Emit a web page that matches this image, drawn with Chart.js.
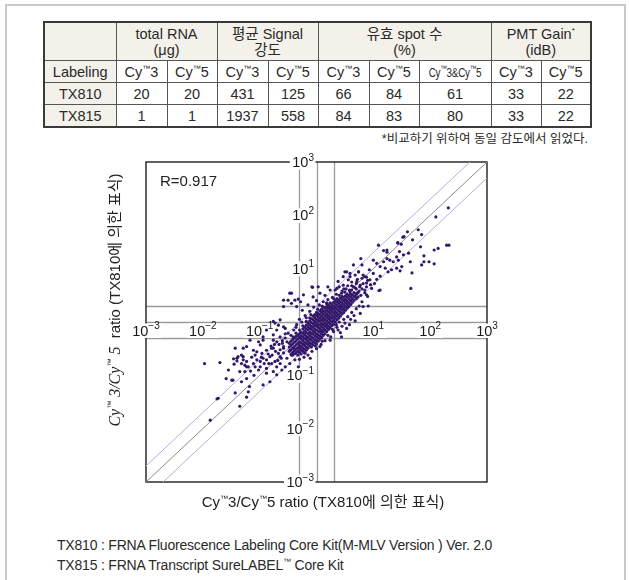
<!DOCTYPE html>
<html>
<head>
<meta charset="utf-8">
<script src="https://cdn.jsdelivr.net/npm/chart.js@4/dist/chart.umd.min.js"></script>
<style>
  body { margin: 0; width: 630px; height: 580px; overflow: hidden; background: #fff;
         font-family: "Liberation Sans", "Noto Sans CJK KR", sans-serif; color: #2a2a2a; }
  #frame { position: absolute; left: 5px; top: 4px; width: 617px; height: 620px; border: 2px solid #c9c9c9; }
  table { position: absolute; left: 43px; top: 21px; border-collapse: collapse; table-layout: fixed;
          border: 2px solid #3a3a3a; font-size: 14.5px; }
  td { border: 1px solid #555; text-align: center; padding: 0; height: 21px; white-space: nowrap; }
  tr.head td { height: 37px; line-height: 16px; background: #f3f1ea; }
  td.lab { background: #f3f1ea; }
  sup { font-size: 8px; vertical-align: 6px; line-height: 0; }
  .both { display: inline-block; font-size: 12px; transform: scaleX(0.82); letter-spacing: -0.3px; }
  #note { position: absolute; right: 42px; top: 128px; font-size: 12.5px; }
  #kits { position: absolute; left: 57px; top: 535px; font-size: 14px; line-height: 20px; letter-spacing: -0.2px; }
  #chartBox { position: absolute; left: 0; top: 140px; }
</style>
</head>
<body>
<div id="frame"></div>
<table id="tbl"></table>
<div id="note">*비교하기 위하여 동일 감도에서 읽었다.</div>
<div id="chartBox"><canvas id="scatter" width="630" height="380"></canvas></div>
<div id="kits">TX810 : FRNA Fluorescence Labeling Core Kit(M-MLV Version ) Ver. 2.0<br>TX815 : FRNA Transcript SureLABEL<sup>™</sup> Core Kit</div>
<script>
// table
const colWidths = [72, 51, 50, 51, 50, 51, 50, 72, 50, 50];
const groupHeads = ['total RNA<br>(μg)', '평균 Signal<br>강도', '유효 spot 수<br>(%)', 'PMT Gain<sup>*</sup><br>(idB)'];
const groupSpans = [2, 2, 3, 2];
const subHeads = ['Cy<sup>™</sup>3', 'Cy<sup>™</sup>5', 'Cy<sup>™</sup>3', 'Cy<sup>™</sup>5', 'Cy<sup>™</sup>3', 'Cy<sup>™</sup>5',
                  '<span class="both">Cy<sup>™</sup>3&amp;Cy<sup>™</sup>5</span>', 'Cy<sup>™</sup>3', 'Cy<sup>™</sup>5'];
const kitNames = ['TX810', 'TX815'];
const tx810Row = [20, 20, 431, 125, 66, 84, 61, 33, 22];
const tx815Row = [1, 1, 1937, 558, 84, 83, 80, 33, 22];

// scatter, log10 of Cy3/Cy5 ratio: [TX810, TX815]
const highTail = [
  [2.32,2.14],[2.10,1.97],[1.79,1.73],[1.85,1.64],[1.60,1.69],[1.54,1.60],[1.69,1.54],[1.43,1.48],[1.49,1.46],[1.09,1.44],
  [2.29,1.44],[2.33,1.44],[1.83,1.41],[2.14,1.38],[2.07,1.35],[1.18,1.34],[1.24,1.31],[1.46,1.32],[1.62,1.29],[1.53,1.26],
  [1.41,1.22],[1.29,1.16],[1.35,1.13],[1.44,1.16],[1.24,1.19],[1.18,1.13],[1.06,1.10],[1.00,1.16],[1.12,1.04],[1.21,1.01],
  [1.26,0.94],[1.32,0.98],[1.41,1.01],[1.47,0.96],[1.50,1.04],[1.65,1.13],[1.68,0.92],[1.89,1.24],[1.89,1.13],[1.98,1.13],
  [2.07,1.09],[1.85,1.07],[1.66,0.63],[1.12,0.60],[0.78,1.19],[0.65,1.07],[0.74,0.94],[0.93,0.98],[1.00,0.91],[0.82,0.88],
  [0.88,0.84],[0.80,0.82],[0.94,0.79],[1.06,0.80],[1.12,0.86],[0.50,0.94],[0.59,0.91],[0.47,0.85],[0.68,0.88],[0.56,0.79],
  [0.38,0.76],[0.71,0.76],[0.77,0.69],[0.65,0.66],[0.88,0.66],[0.97,0.63],[0.47,0.69],[0.88,0.51],[0.59,0.57],[0.33,0.60],
  [0.44,0.54],[0.71,0.54],[0.91,0.30],[1.10,0.59],[0.44,0.29],[0.53,0.94],[0.80,1.07],[1.52,1.59],[1.43,1.49],[1.24,1.35],
  [0.62,0.60],[0.70,0.62],[0.75,0.58],[0.82,0.72],[0.90,0.78],[0.68,0.48],[0.78,0.50],[0.85,0.60],[0.95,0.70],[1.02,0.72],
  [0.55,0.68],[0.48,0.62],[0.40,0.66],[0.72,0.80],[0.62,0.75]
];
const lowTail = [
  [-1.97,-0.78],[-1.70,-0.76],[-1.46,-0.69],[-1.38,-0.65],[-1.45,-0.79],[-1.32,-0.62],[-1.29,-0.71],[-1.23,-0.74],[-1.26,-0.81],[-1.20,-0.84],
  [-1.55,-0.90],[-1.49,-1.09],[-1.35,-0.93],[-1.32,-1.12],[-1.43,-1.33],[-1.23,-1.06],[-1.18,-1.21],[-1.20,-1.31],[-1.23,-1.41],[-1.35,-1.58],
  [-1.73,-1.43],[-1.87,-1.84],[-1.11,-0.78],[-1.05,-0.71],[-0.99,-0.74],[-0.94,-0.68],[-0.88,-0.71],[-0.82,-0.65],[-1.08,-0.84],[-0.99,-0.84],
  [-1.02,-0.90],[-0.88,-0.87],[-0.79,-0.78],[-0.73,-0.74],[-0.70,-0.84],[-0.88,-0.96],[-0.76,-0.93],[-0.64,-0.78],[-0.96,-0.59],[-1.05,-0.56],
  [-0.88,-0.53],[-0.76,-0.49],[-0.67,-0.59],[-0.82,-1.12],[-0.94,-1.18],[-0.70,-0.99],[-0.61,-0.90],[-0.55,-0.84],[-0.47,-0.78],[-0.52,-0.68],
  [-0.44,-0.62],[-0.58,-0.49],[-0.41,-0.49],[-0.52,-0.37],[-0.41,-0.28],[-0.50,-0.21],[-0.64,-0.28],[-0.76,-0.34],[-0.94,-0.34],[-0.99,-0.43],
  [-1.11,-0.53],[-1.23,-0.46],[-1.43,-0.49],[-0.70,-0.15],[-0.58,-0.09],[-1.59,-1.06],[-1.47,-1.09],[-1.75,-1.44],[-1.40,-0.73],[-1.29,-0.65],
  [-1.32,-0.78],[-1.23,-0.84],[-1.26,-0.93],[-1.17,-0.34],[-1.02,-0.37],[-1.29,-0.49],[-1.40,-0.68],[-0.88,-0.15],[-0.94,-0.28],[-0.76,0.01],
  [-0.67,-0.06],[-0.85,-0.60],[-0.72,-0.55],[-0.62,-0.68],[-0.80,-0.45],[-0.66,-0.42],[-0.92,-0.78],[-0.58,-0.58],[-0.68,-0.72],[-0.78,-0.62],
  [-1.14,-0.66],[-1.08,-0.62],[-0.97,-0.66],[-0.84,-0.78],[-0.60,-0.35],[-0.55,-0.22],[-1.16,-0.92],[-1.10,-1.00],[-0.74,-0.42],[-0.64,-0.52]
];
const haloSpots = [
  [-0.07,0.65],[-0.44,0.54],[-0.23,0.51],[-0.32,0.43],[-0.50,0.41],[-0.06,0.47],[0.06,0.54],[0.24,0.60],[0.36,0.63],[0.59,0.85],
  [0.74,0.94],[0.85,0.85],[0.88,0.73],[0.82,0.29],[0.77,0.16],[0.53,-0.12],[0.44,-0.28],[-0.64,0.04],[-0.73,-0.02],[-0.55,-0.12],
  [-0.76,-0.24],[-0.70,-0.37],[-0.79,-0.49],[-0.58,-0.46],[-0.47,-0.53],[-0.64,-0.65],[-0.32,-0.84],[-0.38,-0.71],[-0.11,-0.68],[0.06,-0.46],
  [0.24,-0.34],[-0.58,0.29],[-0.08,0.66],[0.03,0.66],[0.20,0.66],[-0.28,0.38],[-0.35,0.29],[-0.47,0.54],[-0.58,0.41],[-0.38,0.41],
  [-0.44,0.35],[0.40,0.00],[0.48,0.05],[0.55,0.10],[0.62,0.18],[0.70,0.25],[0.45,-0.08],[0.38,-0.15],[0.60,0.05],[0.66,0.12],
  [0.75,0.30],[0.80,0.38],[0.50,-0.02],[0.35,-0.05],[0.30,-0.18],[0.20,-0.25],[0.15,-0.35],[0.08,-0.42],[0.00,-0.50],[-0.08,-0.55],
  [-0.15,-0.62],[-0.22,-0.66],[-0.30,-0.70],[0.25,-0.28],[0.42,-0.20],[0.58,-0.05],[0.68,0.02],[-0.40,-0.15],[-0.45,-0.25],[-0.35,-0.05],
  [-0.30,0.05],[-0.20,0.12],[-0.12,0.20],[-0.05,0.28],[0.05,0.32],[0.12,0.38],[0.20,0.42],[0.28,0.46],[0.35,0.52],[0.45,0.58],
  [0.52,0.62],[0.62,0.68],[0.70,0.72],[0.80,0.62],[0.85,0.55],[0.90,0.48],[-0.55,-0.30],[-0.60,-0.40],[-0.25,0.22],[-0.15,0.32],
  [0.00,0.40],[0.15,0.50],[-0.36,-0.10],[-0.26,0.00],[-0.18,0.08],[-0.10,0.14],[0.02,0.24],[0.10,0.30],[0.18,0.36],[0.30,0.44],
  [0.40,0.50],[0.50,0.56],[0.58,0.60],[0.68,0.64],[0.76,0.66],[0.36,-0.10],[0.28,-0.14],[0.10,-0.36],[-0.02,-0.45],[-0.20,-0.58]
];
// dense core, one column per TX810 value
const coreColumns = [
  [-0.48,[-0.55,-0.47,-0.40]],
  [-0.45,[-0.60,-0.52,-0.44,-0.36]],
  [-0.42,[-0.57,-0.49,-0.41,-0.33,-0.62]],
  [-0.39,[-0.54,-0.46,-0.38,-0.30,-0.60]],
  [-0.36,[-0.58,-0.51,-0.43,-0.35,-0.27,-0.21]],
  [-0.33,[-0.55,-0.48,-0.40,-0.32,-0.25,-0.62]],
  [-0.30,[-0.57,-0.50,-0.44,-0.37,-0.29,-0.22,-0.15]],
  [-0.27,[-0.53,-0.46,-0.39,-0.32,-0.26,-0.19,-0.60]],
  [-0.24,[-0.55,-0.49,-0.42,-0.35,-0.28,-0.21,-0.13,-0.07]],
  [-0.21,[-0.51,-0.44,-0.38,-0.31,-0.24,-0.17,-0.10,-0.58]],
  [-0.18,[-0.53,-0.47,-0.40,-0.33,-0.27,-0.20,-0.13,-0.06,0.01]],
  [-0.15,[-0.49,-0.42,-0.36,-0.29,-0.22,-0.15,-0.09,-0.02]],
  [-0.12,[-0.45,-0.39,-0.32,-0.25,-0.19,-0.12,-0.05,0.02,0.08]],
  [-0.09,[-0.47,-0.41,-0.34,-0.28,-0.21,-0.14,-0.08,-0.01,0.06]],
  [-0.06,[-0.43,-0.37,-0.30,-0.23,-0.17,-0.10,-0.03,0.04,0.11]],
  [-0.03,[-0.39,-0.33,-0.26,-0.19,-0.13,-0.06,0.01,0.08,0.14]],
  [0.00,[-0.41,-0.35,-0.28,-0.22,-0.15,-0.08,-0.02,0.05,0.12,0.18]],
  [0.03,[-0.36,-0.30,-0.24,-0.17,-0.10,-0.04,0.03,0.10,0.16]],
  [0.06,[-0.32,-0.26,-0.19,-0.13,-0.06,0.01,0.07,0.14,0.21]],
  [0.09,[-0.29,-0.22,-0.16,-0.09,-0.03,0.04,0.11,0.18,0.24]],
  [0.12,[-0.25,-0.18,-0.12,-0.05,0.02,0.08,0.15,0.21,0.28]],
  [0.15,[-0.22,-0.15,-0.08,-0.02,0.05,0.12,0.19,0.26]],
  [0.18,[-0.18,-0.11,-0.05,0.02,0.09,0.15,0.22,0.29,0.34]],
  [0.21,[-0.14,-0.08,-0.01,0.06,0.12,0.19,0.26,0.32]],
  [0.24,[-0.11,-0.04,0.03,0.09,0.16,0.23,0.29,0.36]],
  [0.27,[-0.07,0.00,0.07,0.13,0.20,0.26,0.33]],
  [0.30,[-0.04,0.03,0.10,0.17,0.24,0.30,0.37]],
  [0.33,[0.00,0.07,0.14,0.20,0.27,0.34,0.40]],
  [0.36,[0.04,0.11,0.17,0.24,0.31,0.38,0.44]],
  [0.39,[0.07,0.14,0.21,0.28,0.35,0.41]],
  [0.42,[0.11,0.18,0.25,0.31,0.38,0.45]],
  [0.45,[0.15,0.22,0.28,0.35,0.42,0.48]],
  [0.48,[0.18,0.25,0.32,0.39,0.46]],
  [0.51,[0.22,0.29,0.36,0.42,0.49]],
  [0.54,[0.26,0.33,0.39,0.46,0.52]],
  [0.57,[0.29,0.36,0.43,0.50]],
  [0.60,[0.33,0.40,0.47,0.53]],
  [0.63,[0.37,0.44,0.51]],
  [0.66,[0.41,0.48,0.55]],
  [0.70,[0.44,0.52]],
  [0.73,[0.47,0.55]]
];
const tickExponents = [-3, -2, -1, 1, 2, 3];
const foldLines = [0.5, 1, 2];
const diagonalFactors = [0.5, 1, 2];
const rValue = 'R=0.917';

// build table
const tbl = document.getElementById('tbl');
let html = '<colgroup>' + colWidths.map(w => '<col style="width:' + w + 'px">').join('') + '</colgroup>';
html += '<tr class="head"><td></td>' + groupHeads.map((h, i) => '<td colspan="' + groupSpans[i] + '">' + h + '</td>').join('') + '</tr>';
html += '<tr><td class="lab">Labeling</td>' + subHeads.map(h => '<td>' + h + '</td>').join('') + '</tr>';
[tx810Row, tx815Row].forEach((row, i) => {
  html += '<tr><td class="lab">' + kitNames[i] + '</td>' + row.map(v => '<td>' + v + '</td>').join('') + '</tr>';
});
tbl.innerHTML = html;

// scatter points
const spots = [];
coreColumns.forEach(c => c[1].forEach(ly => spots.push({ x: Math.pow(10, c[0]), y: Math.pow(10, ly) })));
haloSpots.concat(lowTail, highTail).forEach(p => spots.push({ x: Math.pow(10, p[0]), y: Math.pow(10, p[1]) }));

const SANS = '"Liberation Sans", "Noto Sans CJK KR", sans-serif';

function richText(ctx, parts, x, y, align) {
  let w = 0;
  parts.forEach(p => { ctx.font = p[1]; w += ctx.measureText(p[0]).width; });
  let cx = align === 'center' ? x - w / 2 : align === 'right' ? x - w : x;
  ctx.textAlign = 'left';
  ctx.textBaseline = 'middle';
  parts.forEach(p => {
    ctx.font = p[1];
    ctx.fillText(p[0], cx, y - (p[2] || 0));
    cx += ctx.measureText(p[0]).width;
  });
  return w;
}

function tickParts(e) {
  return [['10', '14.5px ' + SANS], [(e < 0 ? '\u2212' : '') + Math.abs(e), '10px ' + SANS, 5]];
}

function measure(ctx, parts) {
  let w = 0;
  parts.forEach(p => { ctx.font = p[1]; w += ctx.measureText(p[0]).width; });
  return w;
}

const crossAxes = {
  id: 'crossAxes',
  beforeDatasetsDraw(chart) {
    const { ctx, chartArea: a, scales: { x, y } } = chart;
    ctx.save();
    ctx.strokeStyle = '#9a9a9a';
    ctx.lineWidth = 1.3;
    foldLines.forEach(v => {
      const px = Math.round(x.getPixelForValue(v)) + 0.5;
      const py = Math.round(y.getPixelForValue(v)) + 0.5;
      ctx.beginPath(); ctx.moveTo(px, a.top); ctx.lineTo(px, a.bottom); ctx.stroke();
      ctx.beginPath(); ctx.moveTo(a.left, py); ctx.lineTo(a.right, py); ctx.stroke();
    });
    ctx.strokeStyle = '#1e1e1e';
    ctx.lineWidth = 1.4;
    ctx.strokeRect(a.left, a.top, a.right - a.left, a.bottom - a.top);

    const x1 = x.getPixelForValue(1);
    const y1 = y.getPixelForValue(1);
    tickExponents.forEach(e => {
      const parts = tickParts(e);
      const w = measure(ctx, parts);
      // x ticks, under the ratio-1 line
      const tx = x.getPixelForValue(Math.pow(10, e));
      ctx.fillStyle = '#fff';
      ctx.fillRect(tx - w / 2 - 2, y1 + 1.5, w + 4, 14.5);
      ctx.fillStyle = '#1a1a1a';
      richText(ctx, parts, tx, y1 + 9.5, 'center');
      // y ticks, left of the ratio-1 line
      const ty = y.getPixelForValue(Math.pow(10, e));
      ctx.fillStyle = '#fff';
      ctx.fillRect(x1 - w - 5, ty - 7.5, w + 4, 15);
      ctx.fillStyle = '#1a1a1a';
      richText(ctx, parts, x1 - 2.5, ty + 1, 'right');
    });
    ctx.restore();
  },
  afterDraw(chart) {
    const { ctx, chartArea: a } = chart;
    ctx.save();
    ctx.fillStyle = '#222';
    ctx.textBaseline = 'middle';
    ctx.font = '15px ' + SANS;
    ctx.textAlign = 'left';
    ctx.fillText(rValue, a.left + 14, a.top + 20);
    // x title
    richText(ctx, [
      ['Cy', '15px ' + SANS], ['™', '8px ' + SANS, 4], ['3/Cy', '15px ' + SANS], ['™', '8px ' + SANS, 4],
      ['5 ratio (TX810에 의한 표식)', '15px ' + SANS]
    ], 323, 363, 'center');
    // y title
    ctx.translate(116, 160);
    ctx.rotate(-Math.PI / 2);
    const serif = 'italic 16px "Liberation Serif", serif';
    richText(ctx, [
      ['Cy', serif], ['™', '8px ' + SANS, 5], [' 3/Cy', serif], ['™', '8px ' + SANS, 5], [' 5', serif],
      ['  ratio (TX810에 의한 표식)', '15px ' + SANS]
    ], 0, 0, 'center');
    ctx.restore();
  }
};

const lineSets = diagonalFactors.map(f => ({
  type: 'line',
  data: [{ x: 1e-3, y: 1e-3 * f }, { x: 1e3, y: 1e3 * f }],
  borderColor: f === 1 ? '#8a8a8a' : '#aeb0e6',
  borderWidth: 1,
  pointRadius: 0,
  order: 1
}));

new Chart(document.getElementById('scatter'), {
  type: 'scatter',
  data: {
    datasets: [{
      data: spots,
      pointRadius: 1.6,
      pointBorderWidth: 0,
      backgroundColor: '#33176a',
      order: 0
    }].concat(lineSets)
  },
  options: {
    responsive: false,
    animation: false,
    layout: { padding: { left: 146, right: 143, top: 22, bottom: 38 } },
    scales: {
      x: { type: 'logarithmic', min: 1e-3, max: 1e3, display: false },
      y: { type: 'logarithmic', min: 1e-3, max: 1e3, display: false }
    },
    plugins: { legend: { display: false }, tooltip: { enabled: false } }
  },
  plugins: [crossAxes]
});
</script>
</body>
</html>
